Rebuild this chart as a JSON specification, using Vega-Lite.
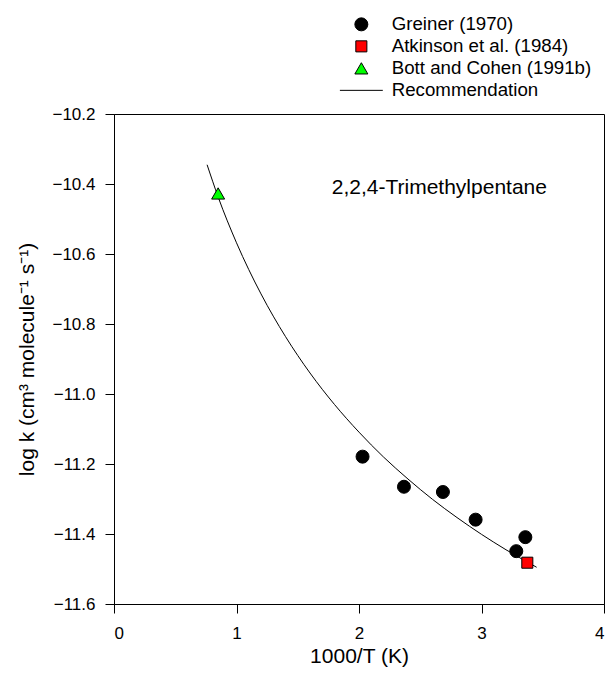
{
  "$schema": "https://vega.github.io/schema/vega-lite/v6.json",
  "width": 490,
  "height": 490,
  "autosize": {"type": "none"},
  "padding": {"left": 114, "top": 114, "right": 7, "bottom": 78},
  "background": "white",
  "config": {
    "font": "Liberation Sans",
    "view": {"stroke": "black", "strokeWidth": 1},
    "axis": {
      "grid": false,
      "domainColor": "black",
      "tickColor": "black",
      "labelColor": "black",
      "titleColor": "black",
      "labelFont": "Liberation Sans",
      "titleFont": "Liberation Sans",
      "labelFontSize": 17,
      "titleFontSize": 21,
      "titleFontWeight": "normal",
      "tickSize": 9,
      "domainWidth": 1,
      "tickWidth": 1
    },
    "legend": {
      "orient": "none",
      "legendX": 238,
      "legendY": -99,
      "labelFont": "Liberation Sans",
      "labelFontSize": 18.7,
      "labelColor": "black",
      "labelLimit": 0,
      "symbolSize": 169,
      "symbolStrokeWidth": 1,
      "labelOffset": 21,
      "rowPadding": 2
    }
  },
  "layer": [
    {
      "data": {
        "values": [
          {"x": 0.76, "y": -10.345},
          {"x": 0.85, "y": -10.437},
          {"x": 1.0, "y": -10.568},
          {"x": 1.2, "y": -10.714},
          {"x": 1.4, "y": -10.836},
          {"x": 1.6, "y": -10.94},
          {"x": 1.8, "y": -11.03},
          {"x": 2.0, "y": -11.109},
          {"x": 2.2, "y": -11.18},
          {"x": 2.4, "y": -11.243},
          {"x": 2.6, "y": -11.301},
          {"x": 2.8, "y": -11.353},
          {"x": 3.0, "y": -11.401},
          {"x": 3.2, "y": -11.445},
          {"x": 3.45, "y": -11.495}
        ]
      },
      "mark": {"type": "line", "color": "black", "strokeWidth": 1, "interpolate": "monotone"},
      "encoding": {
        "x": {
          "field": "x", "type": "quantitative",
          "scale": {"domain": [0, 4], "nice": false, "zero": false},
          "axis": {"title": "1000/T (K)", "values": [0, 1, 2, 3, 4], "format": "d", "labelPadding": 12, "titlePadding": 4}
        },
        "y": {
          "field": "y", "type": "quantitative",
          "scale": {"domain": [-11.6, -10.2], "nice": false, "zero": false},
          "axis": {
            "title": "log k (cm³ molecule⁻¹ s⁻¹)",
            "values": [-11.6, -11.4, -11.2, -11.0, -10.8, -10.6, -10.4, -10.2],
            "format": ".1f",
            "labelPadding": 10,
            "titlePadding": 14
          }
        }
      }
    },
    {
      "data": {
        "values": [
          {"x": 2.029, "y": -11.179, "series": "Greiner (1970)"},
          {"x": 2.367, "y": -11.265, "series": "Greiner (1970)"},
          {"x": 2.685, "y": -11.28, "series": "Greiner (1970)"},
          {"x": 2.952, "y": -11.359, "series": "Greiner (1970)"},
          {"x": 3.358, "y": -11.409, "series": "Greiner (1970)"},
          {"x": 3.284, "y": -11.449, "series": "Greiner (1970)"},
          {"x": 3.374, "y": -11.482, "series": "Atkinson et al. (1984)"},
          {"x": 0.85, "y": -10.427, "series": "Bott and Cohen (1991b)"}
        ]
      },
      "mark": {"type": "point", "size": 169, "strokeWidth": 1, "opacity": 1},
      "encoding": {
        "x": {"field": "x", "type": "quantitative"},
        "y": {"field": "y", "type": "quantitative"},
        "shape": {
          "field": "series", "type": "nominal",
          "scale": {
            "domain": ["Greiner (1970)", "Atkinson et al. (1984)", "Bott and Cohen (1991b)", "Recommendation"],
            "range": ["circle", "M-0.85,-0.85H0.85V0.85H-0.85Z", "triangle-up", "M-3.3,0H3.3"]
          },
          "legend": {"title": null}
        },
        "fill": {
          "field": "series", "type": "nominal",
          "scale": {
            "domain": ["Greiner (1970)", "Atkinson et al. (1984)", "Bott and Cohen (1991b)", "Recommendation"],
            "range": ["black", "#ff0000", "#00ff00", "transparent"]
          },
          "legend": {"title": null}
        },
        "stroke": {
          "field": "series", "type": "nominal",
          "scale": {
            "domain": ["Greiner (1970)", "Atkinson et al. (1984)", "Bott and Cohen (1991b)", "Recommendation"],
            "range": ["black", "black", "black", "black"]
          },
          "legend": {"title": null}
        }
      }
    },
    {
      "data": {"values": [{"x": 2.656, "y": -10.429, "label": "2,2,4-Trimethylpentane"}]},
      "mark": {"type": "text", "fontSize": 21, "align": "center", "baseline": "alphabetic", "color": "black", "font": "Liberation Sans"},
      "encoding": {
        "x": {"field": "x", "type": "quantitative"},
        "y": {"field": "y", "type": "quantitative"},
        "text": {"field": "label"}
      }
    }
  ]
}
